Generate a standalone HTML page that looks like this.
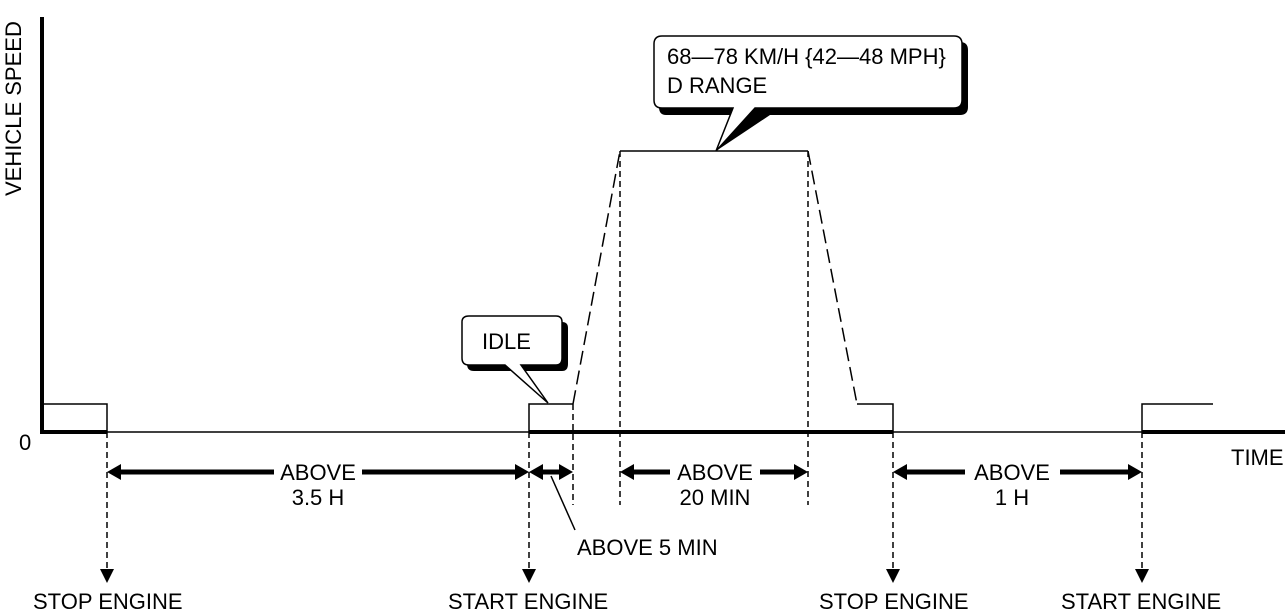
<!DOCTYPE html>
<html><head><meta charset="utf-8"><style>
html,body{margin:0;padding:0;background:#fff;}
svg{display:block;}
text{font-family:"Liberation Sans",sans-serif;font-size:22px;fill:#000;}
</style></head><body>
<svg width="1285" height="614" viewBox="0 0 1285 614" xmlns="http://www.w3.org/2000/svg">
<!-- axes -->
<line x1="42" y1="17" x2="42" y2="434" stroke="#000" stroke-width="4"/>
<line x1="40" y1="432" x2="107" y2="432" stroke="#000" stroke-width="4"/>
<line x1="107" y1="432" x2="529" y2="432" stroke="#000" stroke-width="1.5"/>
<line x1="529" y1="432" x2="893" y2="432" stroke="#000" stroke-width="4"/>
<line x1="893" y1="432" x2="1142" y2="432" stroke="#000" stroke-width="1.5"/>
<line x1="1142" y1="432" x2="1285" y2="432" stroke="#000" stroke-width="4"/>
<text x="21" y="196" transform="rotate(-90 21 196)">VEHICLE SPEED</text>
<text x="19" y="450">0</text>
<text x="1231" y="465">TIME</text>
<!-- signal -->
<g fill="none" stroke="#000" stroke-width="1.5">
<polyline points="42,404 107,404 107,432"/>
<polyline points="529,432 529,404 573,404"/>
<polyline points="620,151 808,151"/>
<polyline points="857,404 893,404 893,432"/>
<polyline points="1142,432 1142,404 1213,404"/>
</g>
<g fill="none" stroke="#000" stroke-width="1.5" stroke-dasharray="14,6">
<line x1="573" y1="404" x2="620" y2="151"/>
<line x1="808" y1="151" x2="857" y2="404"/>
</g>
<!-- dashed verticals -->
<g fill="none" stroke="#000" stroke-width="1.5" stroke-dasharray="6,4">
<line x1="107" y1="432" x2="107" y2="570"/>
<line x1="529" y1="432" x2="529" y2="570"/>
<line x1="893" y1="432" x2="893" y2="570"/>
<line x1="1142" y1="432" x2="1142" y2="570"/>
<line x1="573" y1="404" x2="573" y2="505"/>
<line x1="620" y1="151" x2="620" y2="505"/>
<line x1="808" y1="151" x2="808" y2="505"/>
</g>
<g fill="#000">
<path d="M100,569 L114,569 L107,583 z"/>
<path d="M522,569 L536,569 L529,583 z"/>
<path d="M886,569 L900,569 L893,583 z"/>
<path d="M1135,569 L1149,569 L1142,583 z"/>
</g>
<!-- dimension arrows -->
<g stroke="#000" stroke-width="5" fill="#000">
<line x1="118" y1="472" x2="274" y2="472"/>
<line x1="362" y1="472" x2="518" y2="472"/>
<line x1="540" y1="472" x2="562" y2="472"/>
<line x1="631" y1="472" x2="670" y2="472"/>
<line x1="760" y1="472" x2="797" y2="472"/>
<line x1="904" y1="472" x2="965" y2="472"/>
<line x1="1060" y1="472" x2="1131" y2="472"/>
</g>
<g fill="#000">
<path d="M107,472 L121,464 L121,480 z"/><path d="M529,472 L515,464 L515,480 z"/>
<path d="M529,472 L543,464 L543,480 z"/><path d="M573,472 L559,464 L559,480 z"/>
<path d="M620,472 L634,464 L634,480 z"/><path d="M808,472 L794,464 L794,480 z"/>
<path d="M893,472 L907,464 L907,480 z"/><path d="M1142,472 L1128,464 L1128,480 z"/>
</g>
<text x="318" y="480" text-anchor="middle">ABOVE</text>
<text x="318" y="505" text-anchor="middle">3.5 H</text>
<text x="715" y="480" text-anchor="middle">ABOVE</text>
<text x="715" y="505" text-anchor="middle">20 MIN</text>
<text x="1012" y="480" text-anchor="middle">ABOVE</text>
<text x="1012" y="505" text-anchor="middle">1 H</text>
<line x1="551" y1="476" x2="575" y2="530" stroke="#000" stroke-width="1.5"/>
<text x="577" y="555">ABOVE 5 MIN</text>
<text x="33" y="609">STOP ENGINE</text>
<text x="448" y="609">START ENGINE</text>
<text x="819" y="609">STOP ENGINE</text>
<text x="1061" y="609">START ENGINE</text>
<!-- big callout -->
<path d="M666,42 L960,42 Q968,42 968,50 L968,107 Q968,115 960,115 L770,115 L716,151 L737,115 L666,115 Q659,115 659,107 L659,50 Q659,42 666,42 z" fill="#000"/>
<path d="M662,36 L954,36 Q962,36 962,44 L962,100 Q962,108 954,108 L755,108 L716,151 L733,108 L662,108 Q654,108 654,100 L654,44 Q654,36 662,36 z" fill="#fff" stroke="#000" stroke-width="1.5"/>
<text x="667" y="64">68—78 KM/H {42—48 MPH}</text>
<text x="667" y="93">D RANGE</text>
<!-- idle callout -->
<path d="M474,322 L562,322 Q568,322 568,328 L568,364 Q568,371 562,371 L474,371 Q467,371 467,364 L467,328 Q467,322 474,322 z" fill="#000"/>
<path d="M469,316 L556,316 Q562,316 562,322 L562,358 Q562,365 556,365 L521,365 L548,403 L505,365 L469,365 Q462,365 462,358 L462,322 Q462,316 469,316 z" fill="#fff" stroke="#000" stroke-width="1.5"/>
<text x="482" y="349">IDLE</text>
</svg>
</body></html>
